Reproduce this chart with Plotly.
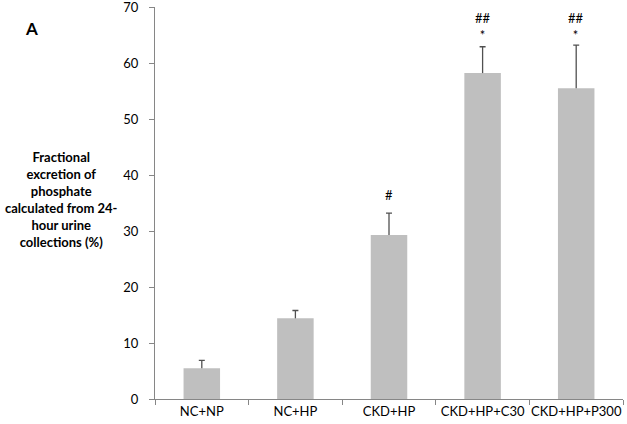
import plotly.graph_objects as go

categories = ["NC+NP", "NC+HP", "CKD+HP", "CKD+HP+C30", "CKD+HP+P300"]
means = [5.5, 14.4, 29.3, 58.2, 55.5]
sems = [1.4, 1.4, 3.9, 4.7, 7.7]
sig_labels = ["", "", "#", "##<br>*", "##<br>*"]
yticks = [0, 10, 20, 30, 40, 50, 60, 70]

font_family = "Lato, 'Open Sans', sans-serif"
err_color = "#505050"

fig = go.Figure()
# bars with vertical error line (no caps)
fig.add_trace(go.Bar(
    x=categories, y=means,
    marker=dict(color="#bfbfbf", line=dict(width=0)),
    error_y=dict(type="data", symmetric=False, array=sems,
                 arrayminus=[0] * len(sems), color=err_color,
                 thickness=1.3, width=0),
    width=0.39,
))
# caps at the top of each error bar
tops = [m + s for m, s in zip(means, sems)]
fig.add_trace(go.Scatter(
    x=categories, y=tops, mode="markers",
    marker=dict(size=1, color="rgba(0,0,0,0)"),
    error_y=dict(type="data", array=[0] * len(sems), color=err_color,
                 thickness=1.3, width=3),
    hoverinfo="skip",
))

annotations = []
for c, lab, top in zip(categories, sig_labels, tops):
    if not lab:
        continue
    if "<br>" in lab:
        annotations.append(dict(x=c, y=69.6, text=lab, showarrow=False,
                                yanchor="top", borderpad=0,
                                font=dict(size=13, color="#000", family=font_family)))
    else:
        annotations.append(dict(x=c, y=top + 3.2, text=lab, showarrow=False,
                                yanchor="middle", borderpad=0,
                                font=dict(size=13, color="#000", family=font_family)))

annotations.append(dict(xref="paper", yref="paper", x=-0.263, y=0.946,
                        xanchor="center", yanchor="middle", text="<b>A</b>",
                        showarrow=False, font=dict(size=17, color="#000", family=font_family)))
annotations.append(dict(xref="paper", yref="paper", x=-0.200, y=0.51,
                        xanchor="center", yanchor="middle",
                        text="<b>Fractional<br>excretion of<br>phosphate<br>calculated from 24-<br>hour urine<br>collections (%)</b>",
                        showarrow=False, align="center",
                        font=dict(size=13, color="#000", family=font_family)))

fig.update_layout(
    width=627, height=424,
    margin=dict(l=155, r=4, t=7, b=25, autoexpand=False),
    paper_bgcolor="white", plot_bgcolor="white",
    showlegend=False,
    annotations=annotations,
    font=dict(family=font_family, size=13, color="#000"),
    xaxis=dict(type="category", range=[-0.5, 4.5], showline=True,
               linecolor="#868686", linewidth=1, ticks="outside",
               tickson="boundaries", ticklen=5, tickcolor="#868686",
               tickangle=0, automargin=False,
               showgrid=False, tickfont=dict(size=13, color="#000")),
    yaxis=dict(range=[0, 70], tickvals=yticks, showline=True,
               linecolor="#868686", linewidth=1, ticks="outside",
               ticklen=5, tickcolor="#868686", showgrid=False,
               automargin=False, ticklabelstandoff=8,
               ticklabeloverflow="allow",
               zeroline=False, tickfont=dict(size=13, color="#000")),
)

fig.write_html("out.html", config={"displayModeBar": False},
               post_script="document.body.style.margin='0px';")
